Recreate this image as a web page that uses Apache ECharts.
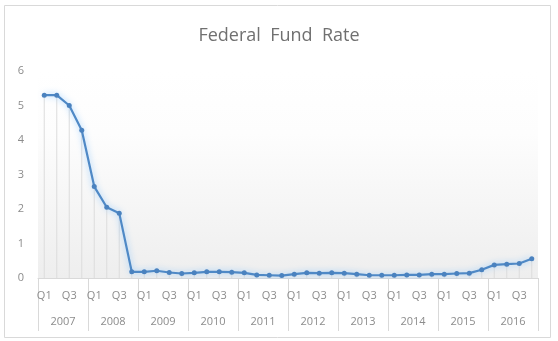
<!DOCTYPE html>
<html>
<head>
<meta charset="utf-8">
<script src="https://cdn.jsdelivr.net/npm/echarts@6/dist/echarts.min.js"></script>
<style>
  html, body { margin: 0; padding: 0; background: #fff; }
  #chart { width: 558px; height: 341px; }
</style>
</head>
<body>
<div id="chart"></div>
<script>
// 联邦基金利率（季度）
var years = ["2007", "2008", "2009", "2010", "2011", "2012", "2013", "2014", "2015", "2016"];
var quarters = ["Q1", "Q2", "Q3", "Q4"];
var rate = [
  5.3, 5.3, 5.0, 4.28,
  2.65, 2.05, 1.88, 0.18,
  0.18, 0.21, 0.16, 0.13,
  0.15, 0.18, 0.18, 0.17,
  0.15, 0.09, 0.08, 0.07,
  0.11, 0.15, 0.14, 0.15,
  0.14, 0.11, 0.08, 0.08,
  0.08, 0.09, 0.09, 0.11,
  0.11, 0.13, 0.14, 0.24,
  0.38, 0.4, 0.42, 0.56
];
var yTicks = [0, 1, 2, 3, 4, 5, 6];

var qCats = [];
years.forEach(function (y) {
  quarters.forEach(function (q) { qCats.push(q); });
});

var myChart = echarts.init(document.getElementById("chart"));
myChart.setOption({
  animation: false,
  title: {
    text: "Federal  Fund  Rate",
    left: "center",
    top: 22,
    textStyle: { color: "#707070", fontSize: 18, fontWeight: "normal", fontFamily: "Open Sans" }
  },
  graphic: [{
    type: "rect",
    shape: { x: 4.5, y: 5.5, width: 546, height: 332 },
    style: { fill: "none", stroke: "#d9d9d9", lineWidth: 1 },
    silent: true
  }],
  grid: {
    left: 38, right: 20, top: 71, bottom: 63,
    show: true,
    borderWidth: 0,
    backgroundColor: new echarts.graphic.LinearGradient(0, 0, 0, 1, [
      { offset: 0, color: "#ffffff" },
      { offset: 0.3, color: "#fdfdfd" },
      { offset: 1, color: "#eeeeee" }
    ])
  },
  xAxis: [
    {
      type: "category",
      data: qCats,
      boundaryGap: true,
      axisLine: { lineStyle: { color: "#d9d9d9" } },
      axisTick: { show: false },
      axisLabel: { interval: 1, color: "#8c8c8c", fontSize: 11, margin: 12, fontFamily: "Open Sans" }
    },
    {
      type: "category",
      data: years,
      position: "bottom",
      boundaryGap: true,
      axisLine: { show: false },
      axisTick: { show: true, length: 53, lineStyle: { color: "#d9d9d9" } },
      axisLabel: { color: "#8c8c8c", fontSize: 11, margin: 38, fontFamily: "Open Sans" }
    }
  ],
  yAxis: {
    type: "value",
    min: 0,
    max: 6,
    interval: 1,
    axisLine: { show: false },
    axisTick: { show: false },
    splitLine: { show: false },
    axisLabel: {
      color: "#8c8c8c", fontSize: 11, margin: 14, fontFamily: "Open Sans",
      formatter: function (v) { return yTicks.indexOf(v) >= 0 ? String(v) : ""; }
    }
  },
  series: [
    {
      // 垂直线（drop lines）
      type: "bar",
      xAxisIndex: 0,
      data: rate,
      barWidth: 1,
      itemStyle: { color: "#dcdcdc" },
      silent: true
    },
    {
      name: "Federal Fund Rate",
      type: "line",
      xAxisIndex: 0,
      data: rate,
      symbol: "circle",
      symbolSize: 5,
      itemStyle: { color: "#4a82bf" },
      lineStyle: {
        color: "#4f89c6",
        width: 2.2,
        shadowBlur: 6,
        shadowColor: "rgba(120,190,255,0.8)"
      }
    }
  ]
});
</script>
</body>
</html>
